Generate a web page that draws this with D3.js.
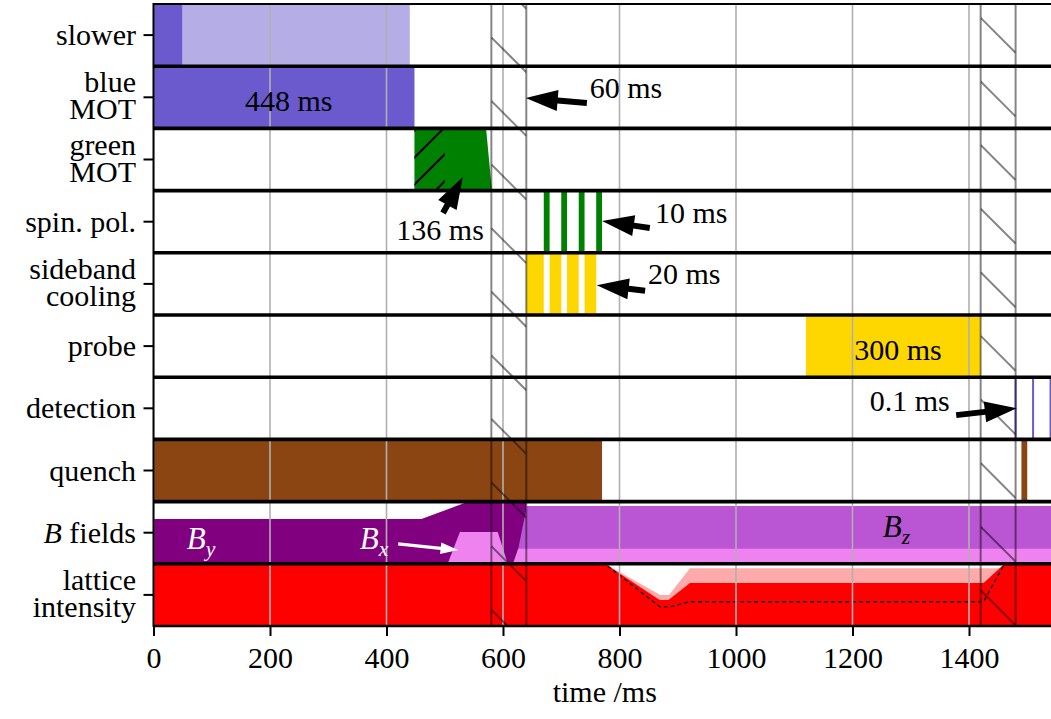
<!DOCTYPE html>
<html>
<head>
<meta charset="utf-8">
<script src="https://cdn.jsdelivr.net/npm/d3@7"></script>
<style>
  body { margin: 0; background: #fff; }
  svg { display: block; }
</style>
</head>
<body>
<svg id="chart" width="1051" height="719"></svg>
<script>
// rows, top to bottom
const rowLabels = [['slower'], ['blue', 'MOT'], ['green', 'MOT'], ['spin. pol.'], ['sideband', 'cooling'],
  ['probe'], ['detection'], ['quench'], ['B fields'], ['lattice', 'intensity']];
const xTicks = [0, 200, 400, 600, 800, 1000, 1200, 1400];
const timeBreaks = [[580, 640], [1420, 1480]];

// pulses [start, end] in ms
const slowerDark = [[0, 50]];
const slowerLight = [[50, 440]];
const blueMOT = [[0, 448]];
const spinPol = [[670, 680], [700, 710], [730, 740], [760, 770]];
const sideband = [[640, 670], [680, 700], [710, 730], [740, 760]];
const probe = [[1120, 1420]];
const detection = [1480, 1510, 1540];
const quench = [[0, 770], [1490, 1500]];

// profiles [t, level] (level 0..1 inside a row)
const greenMOT = [[448, 0], [448, 1], [571, 1], [581, 0]];
const greenHatch = [[448, 500]];
const fieldBy = [[0, 0], [0, 0.72], [460, 0.72], [535, 0.98], [640, 0.98], [640, 0]];
const fieldBz = [[621, 0], [641, 0.93], [1560, 0.93], [1560, 0]];
const fieldBx1 = [[505, 0], [526, 0.51], [591, 0.51], [608, 0]];
const fieldBx2 = [[617, 0], [626, 0.24], [1560, 0.24], [1560, 0]];
const latticeDepth = [[0, 0], [0, 1], [775, 1], [870, 0.5], [885, 0.5], [921, 0.93], [1560, 0.93], [1560, 0]];
const latticeRed = [[0, 0], [0, 1], [775, 1], [869, 0.42], [884, 0.42], [921, 0.69], [1425, 0.69], [1461, 1], [1560, 1], [1560, 0]];
const latticeDashed = [[0, 1], [775, 1], [869, 0.31], [887, 0.31], [921, 0.39], [1425, 0.39], [1461, 1]];

// annotations: text at (t, f) in a row, optional arrow tail -> tip
const notes = [
  { text: '448 ms', row: 1, t: 232, f: 0.45, anchor: 'middle' },
  { text: '60 ms', row: 1, t: 749, f: 0.65, anchor: 'start', tail: [744, 0.41], tip: [639, 0.49] },
  { text: '136 ms', row: 2, t: 492, f: -0.62, anchor: 'middle', tail: [497, -0.36], tip: [531, 0.22] },
  { text: '10 ms', row: 3, t: 861, f: 0.64, anchor: 'start', tail: [852, 0.40], tip: [770, 0.51] },
  { text: '20 ms', row: 4, t: 849, f: 0.66, anchor: 'start', tail: [844, 0.39], tip: [761, 0.48] },
  { text: '300 ms', row: 5, t: 1278, f: 0.44, anchor: 'middle' },
  { text: '0.1 ms', row: 6, t: 1367, f: 0.63, anchor: 'end', tail: [1378, 0.39], tip: [1482, 0.50] }
];
const fieldNotes = [
  { name: 'B', sub: 'y', t: 57, f: 0.41, color: '#fff' },
  { name: 'B', sub: 'x', t: 354, f: 0.41, color: '#fff', tail: [420, 0.32], tip: [523, 0.22] },
  { name: 'B', sub: 'z', t: 1252, f: 0.61, color: '#000' }
];

const W = 1051, H = 719;
const plotLeft = 153.5, plotTop = 4, plotBottom = 626;
const fs = 30;
const serif = '"Liberation Serif", "Times New Roman", serif';

const svg = d3.select('#chart').style('font-family', serif);
const x = d3.scaleLinear().domain([0, 1550]).range([plotLeft, plotLeft + 1550 * 0.5825]);
const rows = d3.scaleBand().domain(d3.range(rowLabels.length)).range([plotTop, plotBottom]);
const bw = rows.bandwidth();
const yRow = i => d3.scaleLinear().domain([0, 1]).range([rows(i) + bw, rows(i)]);

svg.append('clipPath').attr('id', 'plotClip')
  .append('rect').attr('x', plotLeft).attr('y', plotTop).attr('width', W - plotLeft).attr('height', plotBottom - plotTop);

const plot = svg.append('g').attr('clip-path', 'url(#plotClip)');

function blocks(row, spans, color) {
  plot.append('g').selectAll('rect').data(spans).join('rect')
    .attr('x', d => x(d[0])).attr('width', d => x(d[1]) - x(d[0]))
    .attr('y', rows(row)).attr('height', bw)
    .attr('fill', color);
}
function shape(row, pts, color) {
  const ys = yRow(row);
  plot.append('path').datum(pts)
    .attr('d', d3.line().x(d => x(d[0])).y(d => ys(d[1]))(pts) + 'Z')
    .attr('fill', color);
}

blocks(0, slowerDark, '#6a5acd');
blocks(0, slowerLight, '#b4ade6');
blocks(1, blueMOT, '#6a5acd');
shape(2, greenMOT, '#008000');
blocks(3, spinPol, '#008000');
blocks(4, sideband, '#ffd700');
blocks(5, probe, '#ffd700');
blocks(7, quench, '#8b4513');
shape(8, fieldBy, '#800080');
shape(8, fieldBz, '#ba55d3');
shape(8, fieldBx1, '#ee82ee');
shape(8, fieldBx2, '#ee82ee');
shape(9, latticeDepth, '#ffaaaa');
shape(9, latticeRed, '#ff0000');

// detection pulses as thin lines
plot.append('g').selectAll('line').data(detection).join('line')
  .attr('x1', d => x(d)).attr('x2', d => x(d))
  .attr('y1', rows(6)).attr('y2', rows(6) + bw)
  .attr('stroke', '#6a5acd').attr('stroke-width', 2);

// green MOT hatch "/"
greenHatch.forEach((h, i) => {
  const id = 'hatchClip' + i;
  svg.append('clipPath').attr('id', id).append('rect')
    .attr('x', x(h[0])).attr('y', rows(2)).attr('width', x(h[1]) - x(h[0])).attr('height', bw);
  const x0 = x(h[0]) - 5, x1 = x(h[1]) + 5;
  plot.append('g').attr('clip-path', `url(#${id})`).selectAll('line')
    .data(d3.range(-4, 6).map(k => 572 + k * 27)).join('line')
    .attr('x1', x0).attr('y1', c => c - x0).attr('x2', x1).attr('y2', c => c - x1)
    .attr('stroke', '#000').attr('stroke-width', 2);
});

// lattice dashed line
const yl = yRow(9);
plot.append('path').datum(latticeDashed)
  .attr('d', d3.line().x(d => x(d[0])).y(d => yl(d[1])))
  .attr('fill', 'none').attr('stroke', '#000').attr('stroke-width', 1.3).attr('stroke-dasharray', '4,3');

// grid
plot.append('g').selectAll('line').data(xTicks).join('line')
  .attr('x1', d => x(d)).attr('x2', d => x(d)).attr('y1', plotTop).attr('y2', plotBottom)
  .attr('stroke', '#b0b0b0').attr('stroke-width', 1.6);

// time breaks: edges and diagonal hatch
timeBreaks.forEach((b, i) => {
  const id = 'breakClip' + i;
  const xa = x(b[0]), xb = x(b[1]);
  svg.append('clipPath').attr('id', id).append('rect')
    .attr('x', xa).attr('y', plotTop).attr('width', xb - xa).attr('height', plotBottom - plotTop);
  const g = plot.append('g').attr('stroke', '#000').attr('stroke-opacity', 0.48).attr('stroke-width', 2);
  g.append('g').attr('clip-path', `url(#${id})`).selectAll('line')
    .data(d3.range(-25, 15).map(k => -454 + k * 63.6)).join('line')
    .attr('x1', xa).attr('y1', c => xa + c).attr('x2', xb).attr('y2', c => xb + c);
  g.selectAll('line.edge').data(b).join('line').attr('class', 'edge')
    .attr('x1', d => x(d)).attr('x2', d => x(d)).attr('y1', plotTop).attr('y2', plotBottom);
});

// row frames
svg.append('g').selectAll('line').data(d3.range(1, rowLabels.length)).join('line')
  .attr('x1', plotLeft).attr('x2', W).attr('y1', d => rows(d)).attr('y2', d => rows(d))
  .attr('stroke', '#000').attr('stroke-width', 3.6);
svg.append('line').attr('x1', plotLeft).attr('x2', W).attr('y1', plotTop).attr('y2', plotTop)
  .attr('stroke', '#000').attr('stroke-width', 2.2);
svg.append('line').attr('x1', plotLeft).attr('x2', W).attr('y1', plotBottom).attr('y2', plotBottom)
  .attr('stroke', '#000').attr('stroke-width', 2.4);
svg.append('line').attr('x1', plotLeft).attr('x2', plotLeft).attr('y1', plotTop - 1).attr('y2', plotBottom + 1)
  .attr('stroke', '#000').attr('stroke-width', 2);

// arrows
function arrow(p0, p1, color, size = 1) {
  const dx = p1[0] - p0[0], dy = p1[1] - p0[1];
  const len = Math.hypot(dx, dy), ux = dx / len, uy = dy / len, nx = -uy, ny = ux;
  const hl = Math.min(32 * size, len * 0.8), sw = 3 * size, hw = 10.5 * size;
  const bx = p1[0] - ux * hl, by = p1[1] - uy * hl;
  const pts = [
    [p0[0] + nx * sw, p0[1] + ny * sw], [bx + nx * sw, by + ny * sw], [bx + nx * hw, by + ny * hw], p1,
    [bx - nx * hw, by - ny * hw], [bx - nx * sw, by - ny * sw], [p0[0] - nx * sw, p0[1] - ny * sw]
  ];
  svg.append('path').attr('d', d3.line()(pts) + 'Z').attr('fill', color);
}

notes.forEach(n => {
  const ys = yRow(n.row);
  svg.append('text').attr('x', x(n.t)).attr('y', ys(n.f)).attr('dy', '0.35em')
    .attr('text-anchor', n.anchor).attr('font-size', fs).text(n.text);
  if (n.tip) arrow([x(n.tail[0]), ys(n.tail[1])], [x(n.tip[0]), ys(n.tip[1])], '#000');
});

const yb = yRow(8);
fieldNotes.forEach(n => {
  const t = svg.append('text').attr('x', x(n.t)).attr('y', yb(n.f)).attr('dy', '0.35em')
    .attr('font-size', fs + 1).attr('fill', n.color).attr('font-style', 'italic');
  t.append('tspan').text(n.name);
  t.append('tspan').attr('font-size', fs * 0.72).attr('dy', 7).text(n.sub);
  if (n.tip) arrow([x(n.tail[0]), yb(n.tail[1])], [x(n.tip[0]), yb(n.tip[1])], n.color, 0.55);
});

// y axis ticks and labels
const yAxis = svg.append('g').attr('transform', `translate(${plotLeft},0)`)
  .call(d3.axisLeft(rows).tickSize(10).tickFormat(''));
yAxis.select('.domain').remove();
yAxis.selectAll('.tick line').attr('stroke-width', 2);

rowLabels.forEach((lines, i) => {
  const mid = rows(i) + bw / 2;
  const base = lines.length === 1 ? [mid + 10] : [mid - 5, mid + 22];
  lines.forEach((s, j) => {
    const t = svg.append('text').attr('x', 136).attr('y', base[j])
      .attr('text-anchor', 'end').attr('font-size', fs);
    if (s === 'B fields') {
      t.append('tspan').attr('font-style', 'italic').text('B');
      t.append('tspan').text(' fields');
    } else t.text(s);
  });
});

// x axis
const xAxis = svg.append('g').attr('transform', `translate(0,${plotBottom})`)
  .call(d3.axisBottom(x).tickValues(xTicks).tickSize(10).tickPadding(11).tickFormat(d3.format('d')));
xAxis.select('.domain').remove();
xAxis.selectAll('.tick line').attr('stroke-width', 2);
xAxis.selectAll('.tick text').attr('font-size', fs);

svg.append('text').attr('x', (plotLeft + W + 5) / 2).attr('y', 702)
  .attr('text-anchor', 'middle').attr('font-size', fs).text('time /ms');

svg.selectAll('text').style('font-family', serif);
</script>
</body>
</html>
